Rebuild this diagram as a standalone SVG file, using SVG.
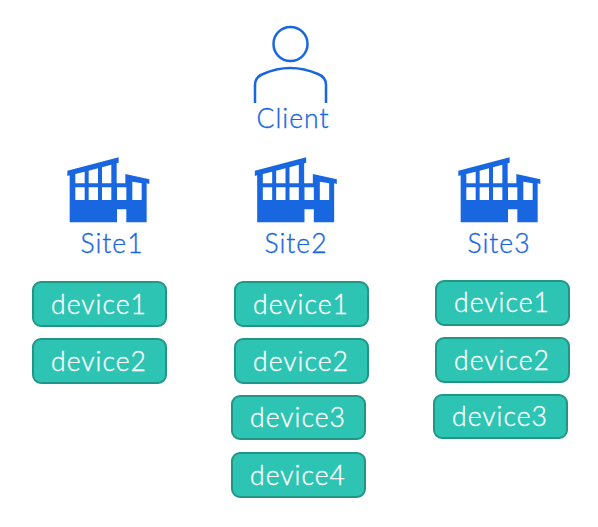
<svg xmlns="http://www.w3.org/2000/svg" width="598" height="527" viewBox="0 0 598 527">
<style>
text{font-family:"Lato","Noto Sans",sans-serif;font-size:26.500px;font-weight:300;letter-spacing:1px;text-anchor:middle;stroke-width:.35}
.l{fill:#1967e0;stroke:#1967e0}
.d{fill:#2ec4b3;stroke:#1f9688;stroke-width:2}
.t{fill:#fff;stroke:#fff}
</style>
<defs>
<g id="b">
<path fill="#1967e0" fill-rule="evenodd" d="M22 62L176 22V38L170 40V100H196V72L268 88V102L260 100V217H199V178H171V217H29V76L22 78ZM46 72V100H74V65ZM86 62V100H114V55ZM126 52V100H154V44ZM217 95V150H245V100ZM46 112V150H74V112ZM86 112V150H114V112ZM126 112V150H154V112ZM171 112V150H199V112Z"/>
</g>
</defs>
<g id="connectors"/>
<g id="client">
<circle cx="290.500" cy="44" r="17" fill="none" stroke="#1967e0" stroke-width="2.500"/>
<path d="M255 103V85Q255 77 263 74Q290 62 318 74Q326 77 326 85V103" fill="none" stroke="#1967e0" stroke-width="2.500"/>
<text class="l" x="293" y="128">Client</text>
</g>
<g id="site1"><use href="#b" transform="translate(60 150) scale(.3333)"/><text class="l" x="112" y="253">Site1</text></g>
<g id="site2"><use href="#b" transform="translate(247.500 150) scale(.3333)"/><text class="l" x="296" y="253">Site2</text></g>
<g id="site3"><use href="#b" transform="translate(451 150) scale(.3333)"/><text class="l" x="499" y="253">Site3</text></g>
<g id="s1d1"><rect class="d" x="33" y="282" width="133" height="44" rx="8"/><text class="t" x="99" y="314">device1</text></g>
<g id="s1d2"><rect class="d" x="33" y="339" width="133" height="44" rx="8"/><text class="t" x="99" y="371">device2</text></g>
<g id="s2d1"><rect class="d" x="235" y="282" width="133" height="44" rx="8"/><text class="t" x="301" y="314">device1</text></g>
<g id="s2d2"><rect class="d" x="235" y="339" width="133" height="44" rx="8"/><text class="t" x="301" y="371">device2</text></g>
<g id="s2d3"><rect class="d" x="232" y="396" width="133" height="43" rx="8"/><text class="t" x="298" y="427">device3</text></g>
<g id="s2d4"><rect class="d" x="232" y="453" width="133" height="44" rx="8"/><text class="t" x="298" y="485">device4</text></g>
<g id="s3d1"><rect class="d" x="436" y="281" width="133" height="44" rx="8"/><text class="t" x="502" y="312">device1</text></g>
<g id="s3d2"><rect class="d" x="436" y="338" width="133" height="44" rx="8"/><text class="t" x="502" y="370">device2</text></g>
<g id="s3d3"><rect class="d" x="434" y="395" width="133" height="43" rx="8"/><text class="t" x="500" y="426">device3</text></g>
</svg>
